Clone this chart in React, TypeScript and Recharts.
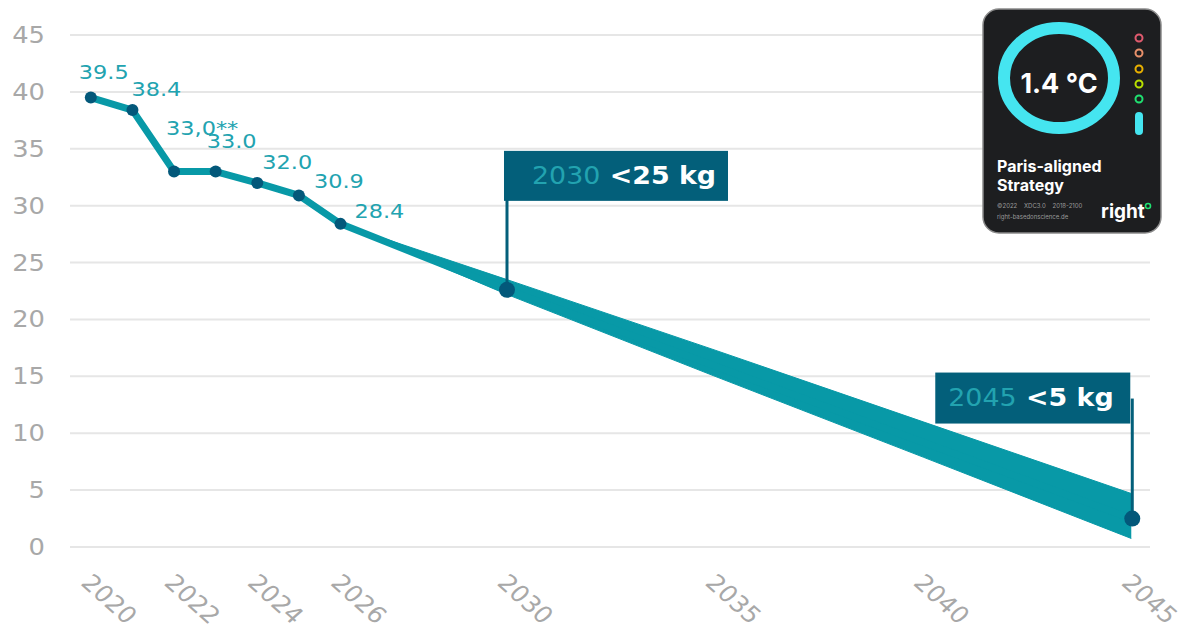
import React from "react";
import { ComposedChart, Line, Area, XAxis, YAxis, CartesianGrid } from "recharts";

const historyYears = [2020, 2021, 2022, 2023, 2024, 2025, 2026];
const historyValues = [39.5, 38.4, 33.0, 33.0, 32.0, 30.9, 28.4];
const historyLabels = ["39.5", "38.4", "33,0**", "33.0", "32.0", "30.9", "28.4"];

const pathYears = [2026, 2030, 2035, 2040, 2045];
const pathUpper = [28.4, 23.5, 17.3, 11.0, 4.7];
const pathLower = [28.4, 22.2, 15.0, 7.9, 0.75];

const midYears = [2026, 2030, 2045];
const midValues = [28.4, 22.6, 2.5];

const targetYears = [2030, 2045];
const targetValues = [22.6, 2.5];
const targetLabels = ["<25 kg", "<5 kg"];

const xTicks = [2020, 2022, 2024, 2026, 2030, 2035, 2040, 2045];
const yTicks = [0, 5, 10, 15, 20, 25, 30, 35, 40, 45];

const TEAL = "#0899a7";
const DOT = "#03587a";
const BOX = "#035f7a";
const LABEL = "#22a3b0";
const GRAY = "#a8a8a8";
const FONT = "'DejaVu Sans', Verdana, sans-serif";
const SX = 1.12; // horizontal text stretch seen in the reference

type Row = {
  year: number;
  hist?: number;
  histLabel?: string;
  band?: [number, number];
  mid?: number;
  target?: number;
  targetLabel?: string;
};

const rowMap = new Map<number, Row>();
const getRow = (y: number): Row => {
  if (!rowMap.has(y)) rowMap.set(y, { year: y });
  return rowMap.get(y)!;
};
historyYears.forEach((y, i) => {
  const r = getRow(y);
  r.hist = historyValues[i];
  r.histLabel = historyLabels[i];
});
pathYears.forEach((y, i) => {
  getRow(y).band = [pathLower[i], pathUpper[i]];
});
midYears.forEach((y, i) => {
  getRow(y).mid = midValues[i];
});
targetYears.forEach((y, i) => {
  const r = getRow(y);
  r.target = targetValues[i];
  r.targetLabel = targetLabels[i];
});
const data: Row[] = Array.from(rowMap.values()).sort((a, b) => a.year - b.year);

// label layout offsets (left x, vertical centre) relative to each point
const labelDx = [-12, -1, -8, -9, 5, 15, 14];
const labelDy = [-26, -21, -44, -31, -21, -14, -13];

const HistLabel = (props: any) => {
  const { x, y, index } = props;
  const row = data[index];
  if (!row || row.histLabel == null || x == null || y == null) return null;
  const tx = x + (labelDx[index] ?? 0);
  const ty = y + (labelDy[index] ?? -20);
  return (
    <text
      transform={`translate(${tx}, ${ty}) scale(${SX}, 1)`}
      fill={LABEL}
      fontSize={20}
      fontFamily={FONT}
      textAnchor="start"
      dominantBaseline="central"
    >
      {row.histLabel}
    </text>
  );
};

const Callout = (props: any) => {
  const { cx, cy, index, payload } = props;
  if (cx == null || cy == null || payload?.target == null) return <g key={`c${index}`} />;
  const label = payload.targetLabel as string;
  const year = String(payload.year);
  const isLast = payload.year === targetYears[targetYears.length - 1];
  if (!isLast) {
    return (
      <g key={`c${index}`}>
        <rect x={cx - 3} y={cy - 139} width={224} height={50} fill={BOX} />
        <line x1={cx} y1={cy - 90} x2={cx} y2={cy} stroke={BOX} strokeWidth={3} />
        <circle cx={cx} cy={cy} r={8} fill={DOT} />
        <text transform={`translate(${cx + 25}, ${cy - 106}) scale(${SX}, 1)`} fontSize={24} fontFamily={FONT}>
          <tspan fill={LABEL}>{year}</tspan>
          <tspan fill="#ffffff" fontWeight="bold">{" " + label}</tspan>
        </text>
      </g>
    );
  }
  return (
    <g key={`c${index}`}>
      <rect x={cx - 196} y={cy - 146} width={195} height={51} fill={BOX} />
      <line x1={cx + 1} y1={cy - 120} x2={cx + 1} y2={cy} stroke={BOX} strokeWidth={3} />
      <circle cx={cx + 1} cy={cy} r={8} fill={DOT} />
      <text transform={`translate(${cx - 183}, ${cy - 113}) scale(${SX}, 1)`} fontSize={24} fontFamily={FONT}>
        <tspan fill={LABEL}>{year}</tspan>
        <tspan fill="#ffffff" fontWeight="bold">{" " + label}</tspan>
      </text>
    </g>
  );
};

const YTick = (props: any) => {
  const { y, payload } = props;
  return (
    <text
      transform={`translate(45, ${y}) scale(${SX}, 1)`}
      textAnchor="end"
      dominantBaseline="central"
      fill={GRAY}
      fontSize={23}
      fontFamily={FONT}
    >
      {payload.value}
    </text>
  );
};

const XTick = (props: any) => {
  const { x, payload } = props;
  const tx = x - 11;
  const ty = 584;
  return (
    <text
      transform={`translate(${tx}, ${ty}) scale(${SX}, 1) rotate(45)`}
      textAnchor="start"
      fill={GRAY}
      fontSize={23}
      fontFamily={FONT}
    >
      {payload.value}
    </text>
  );
};

const Badge = () => (
  <svg
    width={1178}
    height={633}
    style={{ position: "absolute", left: 0, top: 0, pointerEvents: "none" }}
  >
    <rect x={983} y={9} width={178} height={224} rx={16} fill="#1d1e20" stroke="#8a8a8a" strokeWidth={1.5} />
    <ellipse cx={1059} cy={78} rx={55} ry={50} fill="none" stroke="#45e5f0" strokeWidth={12} />
    <text x={1059} y={93} textAnchor="middle" fill="#ffffff" fontSize={27} fontWeight="bold" fontFamily="Inter, Roboto, sans-serif">
      1.4 °C
    </text>
    {[
      ["#e05a6e", 38],
      ["#e8906a", 53],
      ["#e8b000", 69],
      ["#b8e000", 84],
      ["#20e070", 99],
    ].map(([c, y]) => (
      <circle key={String(y)} cx={1139} cy={Number(y)} r={3.5} fill="none" stroke={String(c)} strokeWidth={2} />
    ))}
    <rect x={1135} y={112} width={8} height={23} rx={4} fill="#45e5f0" />
    <text x={997} y={172} fill="#ffffff" fontSize={16} fontWeight="bold" fontFamily="Inter, Roboto, sans-serif">
      Paris-aligned
    </text>
    <text x={997} y={191} fill="#ffffff" fontSize={16} fontWeight="bold" fontFamily="Inter, Roboto, sans-serif">
      Strategy
    </text>
    <text x={997} y={208} fill="#9a9a9a" fontSize={6} fontFamily="Inter, Roboto, sans-serif" style={{ whiteSpace: "pre" }}>
      ©2022    XDC3.0    2018-2100
    </text>
    <text x={997} y={219} fill="#9a9a9a" fontSize={6} fontFamily="Inter, Roboto, sans-serif">
      right-basedonscience.de
    </text>
    <text x={1101} y={218} fill="#ffffff" fontSize={19} fontWeight="bold" fontFamily="Inter, Roboto, sans-serif">
      right
    </text>
    <circle cx={1148} cy={206} r={2.5} fill="none" stroke="#20e070" strokeWidth={1.6} />
  </svg>
);

export default function App() {
  return (
    <div style={{ position: "absolute", left: 0, top: 0, width: 1178, height: 633, background: "#ffffff", overflow: "hidden" }}>
      <ComposedChart width={1178} height={633} data={data} margin={{ top: 35, right: 28, left: 0, bottom: 0 }}>
        <CartesianGrid vertical={false} stroke="#e6e6e6" strokeWidth={2} />
        <XAxis
          dataKey="year"
          type="number"
          domain={[2019.5, 2045.45]}
          ticks={xTicks}
          axisLine={false}
          tickLine={false}
          height={86}
          tick={<XTick />}
          interval={0}
          allowDataOverflow
        />
        <YAxis
          domain={[0, 45]}
          ticks={yTicks}
          axisLine={false}
          tickLine={false}
          width={70}
          tick={<YTick />}
          interval={0}
        />
        <Area
          dataKey="band"
          type="linear"
          stroke={TEAL}
          strokeWidth={1}
          fill={TEAL}
          fillOpacity={1}
          connectNulls
          isAnimationActive={false}
          dot={false}
          activeDot={false}
        />
        <Line
          dataKey="mid"
          type="linear"
          stroke={TEAL}
          strokeWidth={7}
          connectNulls
          dot={false}
          activeDot={false}
          isAnimationActive={false}
        />
        <Line
          dataKey="hist"
          type="linear"
          stroke={TEAL}
          strokeWidth={7}
          strokeLinejoin="round"
          dot={{ r: 6, fill: DOT, stroke: "none" }}
          activeDot={false}
          label={<HistLabel />}
          isAnimationActive={false}
        />
        <Line
          dataKey="target"
          type="linear"
          stroke="none"
          connectNulls
          dot={(p: any) => <Callout {...p} />}
          activeDot={false}
          isAnimationActive={false}
        />
      </ComposedChart>
      <Badge />
    </div>
  );
}
